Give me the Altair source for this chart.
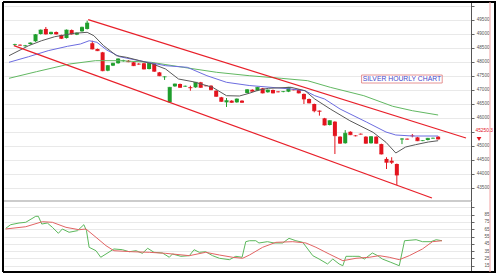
import altair as alt
import pandas as pd

# ---------------- data ----------------
OPENS = [48600, 48600, 48560, 48633, 48730, 48990, 49170, 48990, 49060, 48955,
         48845, 49130, 48965, 49085, 49170, 48660, 48455, 48335, 47680, 47860,
         47945, 48035, 48035, 47980, 47920, 47945, 47740, 47945, 47620, 47455,
         46550, 47120, 47205, 47120, 47090, 47085, 47265, 47145, 47145, 46965,
         46730, 46550, 46610, 46550, 46610, 46885, 47000, 46965, 47050, 46910,
         46990, 46930, 46930, 46930, 47000, 47000, 46850, 46670, 46490, 46250,
         45980, 45740, 45860, 45325, 45090, 45500, 45360, 45420, 45325, 45090,
         45325, 45060, 44530, 44465, 44350, 45230, 45245, 45360, 45300, 45180,
         45205, 45265, 45325]
CLOSES = [48610, 48590, 48570, 48670, 48965, 49130, 48990, 49050, 48990, 48835,
          49130, 48990, 49025, 49230, 49380, 48455, 48395, 47680, 47860, 47945,
          48100, 48040, 48000, 47860, 47915, 47740, 47945, 47660, 47500, 47460,
          47085, 47205, 47085, 47125, 47070, 47265, 47085, 47140, 47000, 46765,
          46585, 46610, 46550, 46670, 46550, 47000, 46945, 47085, 46885, 46990,
          46885, 46925, 46935, 47085, 46995, 46885, 46670, 46530, 46250, 46230,
          45740, 45895, 45360, 45090, 45445, 45395, 45355, 45415, 45090, 45325,
          45090, 44705, 44410, 44410, 43955, 45245, 45235, 45355, 45180, 45185,
          45265, 45270, 45240]
HIGHS = [48640, 48620, 48600, 48690, 48990, 49150, 49240, 49070, 49080, 48970,
         49150, 49150, 49040, 49250, 49465, 48750, 48470, 48350, 47880, 47960,
         48120, 48070, 48060, 47995, 47950, 47960, 47960, 47960, 47635, 47480,
         47100, 47220, 47220, 47150, 47145, 47280, 47280, 47170, 47160, 46980,
         46745, 46705, 46625, 46690, 46625, 47020, 47015, 47100, 47065, 47005,
         47005, 46950, 46955, 47100, 47020, 47015, 46865, 46685, 46505, 46260,
         45995, 45910, 45875, 45340, 45560, 45515, 45380, 45440, 45340, 45340,
         45340, 45075, 44590, 44590, 44365, 45275, 45260, 45420, 45315, 45200,
         45280, 45290, 45340]
LOWS = [48570, 48570, 48540, 48610, 48710, 48970, 48970, 48970, 48970, 48810,
        48830, 48970, 48950, 49070, 49150, 48440, 48380, 47660, 47660, 47845,
        47930, 48000, 47985, 47845, 47890, 47725, 47725, 47640, 47485, 47350,
        46540, 47105, 47070, 47100, 46965, 47070, 47070, 47120, 46985, 46750,
        46570, 46385, 46535, 46535, 46535, 46870, 46930, 46950, 46870, 46895,
        46870, 46905, 46910, 46915, 46980, 46870, 46490, 46515, 46195, 46075,
        45725, 45725, 44705, 45075, 45075, 45380, 45335, 45400, 45075, 45075,
        45075, 44690, 44170, 44350, 43600, 45060, 45220, 45300, 45165, 45165,
        45190, 45250, 45225]

FAST_MA_T = [-1.14, 2.66, 5.18, 7.72, 11.5, 14.0, 15.3, 17.2, 19.7, 21.6, 24.2,
             26.7, 29.2, 31.7, 34.5, 38.3, 41.0, 43.5, 45.4, 47.3, 49.1, 53.5,
             56.2, 58.1, 61.1, 64.9, 69.4, 71.9, 73.8, 75.7, 77.6, 80.1, 82.0]
FAST_MA_V = [48215, 48572, 48750, 48893, 49015, 49050, 48929, 48572, 48215, 48158,
             48037, 47919, 47740, 47383, 47287, 47087, 46787, 46776, 46873, 46990,
             47051, 47087, 46966, 46669, 46312, 45895, 45480, 45123, 44741, 44955,
             45038, 45134, 45181]
MID_MA_T = [-1.14, 2.66, 6.45, 10.2, 12.7, 14.4, 15.9, 17.8, 20.3, 24.1, 29.2,
            33.4, 37.2, 41.0, 45.4, 53.5, 56.2, 58.1, 60.0, 63.0, 68.1, 71.9,
            73.8, 77.0, 82.0]
MID_MA_V = [47979, 48179, 48394, 48551, 48633, 48750, 48693, 48418, 48179, 48037,
            47858, 47801, 47501, 47265, 47151, 47026, 46966, 46787, 46669, 46312,
            45848, 45491, 45384, 45348, 45348]
SLOW_MA_T = [-1.14, 4.17, 10.6, 15.6, 20.1, 26.4, 32.6, 39.1, 45.4, 51.6, 56.7,
             61.1, 67.6, 73.2, 77.0, 82.0]
SLOW_MA_V = [47408, 47644, 47919, 48037, 48037, 47979, 47801, 47622, 47501, 47408,
             47323, 47087, 46787, 46409, 46252, 46098]

UPPER_LINE_T = [14.2, 87.4]
UPPER_LINE_V = [49500, 45277]
LOWER_LINE_T = [-0.19, 80.8]
LOWER_LINE_V = [48572, 43135]

OSC_FAST_T = [-0.82, 0.13, 1.71, 2.98, 4.88, 5.37, 6.02, 7.08, 8.03, 9.17,
              9.92, 11.2, 12.8, 14.0, 14.5, 15.0, 16.3, 17.2, 18.2, 19.7,
              21.3, 22.6, 23.9, 25.1, 26.1, 27.3, 28.9, 30.2, 30.8, 32.4,
              34.0, 34.9, 35.9, 37.1, 38.4, 39.7, 41.6, 42.8, 44.0, 44.7,
              45.4, 46.6, 47.2, 48.8, 50.1, 51.7, 52.9, 54.2, 55.5, 57.4,
              58.6, 60.2, 61.2, 62.4, 63.1, 63.7, 65.0, 66.2, 67.2, 68.7,
              69.7, 70.6, 72.2, 73.8, 74.8, 77.0, 78.2, 79.8, 80.8, 81.9]
OSC_FAST_V = [66.3, 71.3, 73.6, 74.6, 82.8, 82.8, 72.2, 73.6, 67.7, 59.5,
              65.4, 60.9, 63.1, 71.3, 63.1, 40.3, 35.6, 26.6, 31.1, 38.0,
              37.0, 34.2, 35.6, 32.0, 38.9, 33.4, 32.5, 26.6, 31.1, 27.9,
              28.8, 37.0, 33.4, 34.2, 28.8, 25.2, 23.3, 27.9, 26.6, 48.0,
              49.3, 49.3, 46.2, 48.0, 46.2, 46.2, 52.6, 49.3, 47.1, 28.8,
              24.2, 17.4, 24.2, 17.4, 15.0, 27.9, 27.9, 27.9, 24.2, 32.5,
              28.8, 24.2, 19.7, 15.0, 49.3, 50.7, 48.0, 48.0, 50.7, 49.3]
OSC_SLOW_T = [-0.82, 2.98, 6.13, 8.03, 10.6, 13.1, 14.4, 16.3, 18.2, 19.7,
              23.2, 26.4, 29.5, 34.0, 37.1, 39.7, 42.2, 44.1, 45.4, 47.9,
              50.4, 53.6, 56.1, 58.0, 60.5, 63.1, 65.6, 68.1, 70.0, 71.9,
              73.8, 75.7, 78.2, 80.1, 81.9]
OSC_SLOW_V = [65.4, 68.5, 75.4, 74.6, 67.7, 64.4, 65.4, 54.0, 42.5, 35.6,
              34.2, 33.4, 32.0, 28.8, 33.4, 29.7, 26.6, 25.2, 29.7, 40.3,
              47.1, 48.0, 46.2, 40.3, 31.1, 21.9, 25.2, 26.6, 28.8, 26.6,
              23.3, 28.8, 38.0, 48.0, 49.3]

PRICE_TICKS = [43500, 44000, 44500, 45000, 45500, 46000, 46500, 47000,
               47500, 48000, 48500, 49000, 49500, 50000]
OSC_TICKS = [15, 25, 35, 45, 55, 65, 75, 85, 95]
TITLE_TEXT = "SILVER HOURLY CHART"
TITLE_BOX = {"t1": 67.17, "t2": 82.79, "v1": 47526, "v2": 47240, "tc": 74.98, "vc": 47383}
LAST_PRICE_LABEL = "45250.3"

# ---------------- styling ----------------
W = 467
H_MAIN = 199
H_OSC = 71
X_DOMAIN = [-1.14, 87.4]
Y_DOMAIN = [43028, 50132]
OSC_DOMAIN = [6.4, 103.8]
GREEN = "#1f9e2c"
RED = "#e3141e"
LINE_RED = "#e8202a"
MA_FAST = "#5a5a5a"
MA_MID = "#6c6ce0"
MA_SLOW = "#62b862"
OSC_GREEN = "#5cb85c"
OSC_RED = "#e26464"
FONT = "Liberation Sans"

xs = alt.Scale(domain=X_DOMAIN, nice=False, zero=False)
ys = alt.Scale(domain=Y_DOMAIN, nice=False, zero=False)
os_ = alt.Scale(domain=OSC_DOMAIN, nice=False, zero=False)

common_axis = dict(orient="right", title=None, domain=True, domainColor="#555555",
                   domainWidth=1, ticks=True, tickSize=3, tickColor="#666666",
                   labelFontSize=4.6, labelColor="#555555", labelFont=FONT,
                   labelAlign="right", labelPadding=15, grid=True,
                   gridColor="#e9e9e9", gridWidth=1)
price_axis = alt.Axis(values=PRICE_TICKS,
                      labelExpr="(datum.value == 45500 || datum.value == 50000) ? '' : format(datum.value, 'd')",
                      **common_axis)
osc_axis = alt.Axis(values=OSC_TICKS,
                    labelExpr="datum.value == 95 ? '' : format(datum.value, 'd')",
                    **common_axis)

X = alt.X("t:Q", scale=xs, axis=None)

cdf = pd.DataFrame({"t": list(range(len(OPENS))), "open": OPENS, "close": CLOSES,
                    "high": HIGHS, "low": LOWS})
cdf["dir"] = ["up" if c >= o else "down" for o, c in zip(OPENS, CLOSES)]
color = alt.Color("dir:N", scale=alt.Scale(domain=["up", "down"], range=[GREEN, RED]),
                  legend=None)

wicks = alt.Chart(cdf).mark_rule(strokeWidth=1).encode(
    x=X, y=alt.Y("high:Q", scale=ys, axis=price_axis), y2="low:Q", color=color)
bodies = alt.Chart(cdf).mark_bar(size=4).encode(
    x=X, y=alt.Y("open:Q", scale=ys, axis=price_axis), y2="close:Q", color=color)
close_ticks = alt.Chart(cdf).mark_tick(orient="horizontal", size=4, thickness=1).encode(
    x=X, y=alt.Y("close:Q", scale=ys, axis=price_axis), color=color)


def line(ts, vs, col, width, scale, axis):
    d = pd.DataFrame({"t": ts, "v": vs})
    return alt.Chart(d).mark_line(color=col, strokeWidth=width).encode(
        x=X, y=alt.Y("v:Q", scale=scale, axis=axis))


ma_slow = line(SLOW_MA_T, SLOW_MA_V, MA_SLOW, 1, ys, price_axis)
ma_mid = line(MID_MA_T, MID_MA_V, MA_MID, 1, ys, price_axis)
ma_fast = line(FAST_MA_T, FAST_MA_V, MA_FAST, 1, ys, price_axis)
upper = line(UPPER_LINE_T, UPPER_LINE_V, LINE_RED, 1.3, ys, price_axis)
lower = line(LOWER_LINE_T, LOWER_LINE_V, LINE_RED, 1.3, ys, price_axis)

bdf = pd.DataFrame([TITLE_BOX])
box = alt.Chart(bdf).mark_rect(fill="white", stroke="#e07878", strokeWidth=0.8).encode(
    x=alt.X("t1:Q", scale=xs, axis=None), x2="t2:Q",
    y=alt.Y("v1:Q", scale=ys, axis=price_axis), y2="v2:Q")
box_text = alt.Chart(bdf).mark_text(font=FONT, fontSize=6.8, color="#4646c8",
                                    baseline="middle", align="center").encode(
    x=alt.X("tc:Q", scale=xs, axis=None), y=alt.Y("vc:Q", scale=ys, axis=price_axis),
    text=alt.value(TITLE_TEXT))

one = pd.DataFrame({"a": [0]})


def vrule(xpx, y1, y2, col, sw):
    return alt.Chart(one).mark_rule(color=col, strokeWidth=sw).encode(
        x=alt.value(xpx), y=alt.value(y1), y2=alt.value(y2))


def hrule(ypx, x1, x2, col, sw):
    return alt.Chart(one).mark_rule(color=col, strokeWidth=sw).encode(
        y=alt.value(ypx), x=alt.value(x1), x2=alt.value(x2))


price_label = alt.Chart(one).mark_text(font=FONT, fontSize=4.8, color=RED, align="left",
                                       baseline="middle").encode(
    x=alt.value(471.5), y=alt.value(129.3), text=alt.value(LAST_PRICE_LABEL))
marker = alt.Chart(one).mark_point(shape="triangle-down", filled=True, size=22,
                                   color=RED, opacity=1).encode(
    x=alt.value(475), y=alt.value(137))

main = alt.layer(
    wicks, bodies, close_ticks, ma_slow, ma_mid, ma_fast, upper, lower, box, box_text,
    hrule(199, 0, W, "#999999", 1),
    hrule(0, -1, 492, "black", 2),
    vrule(-1, 0, H_MAIN, "black", 2),
    vrule(491, 0, H_MAIN, "black", 2),
    vrule(486, 0, H_MAIN, "#f2a0a0", 1),
    price_label, marker,
).properties(width=W, height=H_MAIN)

osc_fast = line(OSC_FAST_T, OSC_FAST_V, OSC_GREEN, 1, os_, osc_axis)
osc_slow = line(OSC_SLOW_T, OSC_SLOW_V, OSC_RED, 1, os_, osc_axis)

osc = alt.layer(
    osc_fast, osc_slow,
    hrule(H_OSC, -1, 492, "black", 2),
    vrule(-1, 0, H_OSC, "black", 2),
    vrule(491, 0, H_OSC, "black", 2),
    vrule(486, 0, H_OSC, "#f2a0a0", 1),
).properties(width=W, height=H_OSC)

chart = alt.vconcat(main, osc, spacing=0, bounds="flush").properties(
    padding={"left": 2, "top": 1, "right": 0, "bottom": 0},
    background="white",
).configure_view(stroke=None)

chart.save("out.html", embed_options={"renderer": "svg", "actions": False})
